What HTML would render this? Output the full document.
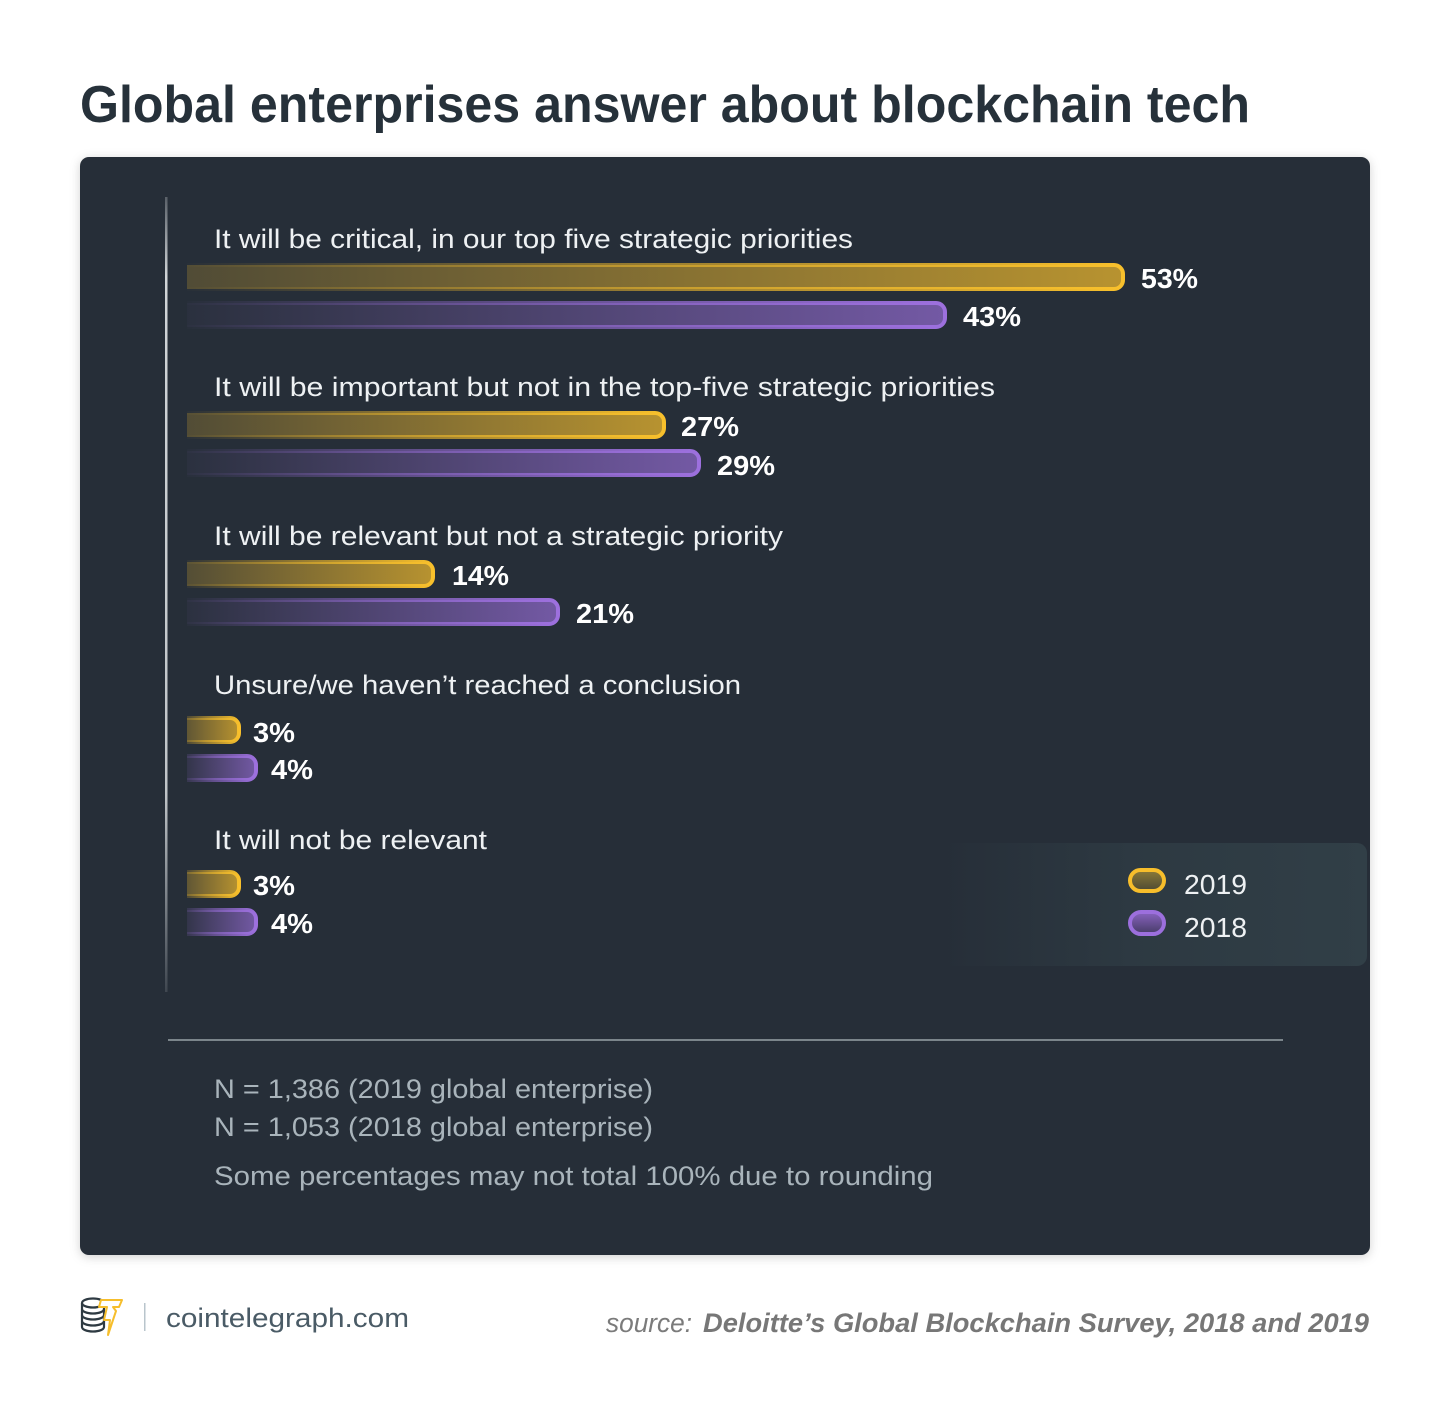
<!DOCTYPE html>
<html>
<head>
<meta charset="utf-8">
<style>
html,body{margin:0;padding:0;background:#ffffff;}
svg{display:block;}
text{font-family:"Liberation Sans",sans-serif;}
</style>
</head>
<body>
<svg width="1450" height="1421" viewBox="0 0 1450 1421" xmlns="http://www.w3.org/2000/svg">
<defs>
  <filter id="sh" x="-5%" y="-5%" width="110%" height="110%">
    <feDropShadow dx="0" dy="2" stdDeviation="5" flood-color="#000" flood-opacity="0.18"/>
  </filter>
  <linearGradient id="yf" x1="0" y1="0" x2="1" y2="0">
    <stop offset="0" stop-color="#f6be2c" stop-opacity="0.2"/>
    <stop offset="1" stop-color="#f6be2c" stop-opacity="0.7"/>
  </linearGradient>
  <linearGradient id="ys" x1="0" y1="0" x2="1" y2="0">
    <stop offset="0" stop-color="#f6be2c" stop-opacity="0"/>
    <stop offset="0.5" stop-color="#f6be2c" stop-opacity="0.55"/>
    <stop offset="1" stop-color="#f8c02c" stop-opacity="1"/>
  </linearGradient>
  <linearGradient id="pf" x1="0" y1="0" x2="1" y2="0">
    <stop offset="0" stop-color="#9b6fdc" stop-opacity="0.03"/>
    <stop offset="1" stop-color="#9b6fdc" stop-opacity="0.66"/>
  </linearGradient>
  <linearGradient id="ps" x1="0" y1="0" x2="1" y2="0">
    <stop offset="0" stop-color="#9b6fdc" stop-opacity="0"/>
    <stop offset="0.5" stop-color="#9b6fdc" stop-opacity="0.55"/>
    <stop offset="1" stop-color="#9d70de" stop-opacity="1"/>
  </linearGradient>
  <linearGradient id="vl" x1="0" y1="0" x2="0" y2="1">
    <stop offset="0" stop-color="#d0d4d7" stop-opacity="0.3"/>
    <stop offset="0.1" stop-color="#d0d4d7" stop-opacity="1"/>
    <stop offset="0.75" stop-color="#d0d4d7" stop-opacity="0.9"/>
    <stop offset="1" stop-color="#d0d4d7" stop-opacity="0.15"/>
  </linearGradient>
  <linearGradient id="lg" x1="0" y1="0" x2="1" y2="0">
    <stop offset="0" stop-color="#303e46" stop-opacity="0"/>
    <stop offset="0.45" stop-color="#303e46" stop-opacity="0.7"/>
    <stop offset="1" stop-color="#313f47" stop-opacity="1"/>
  </linearGradient>
  <linearGradient id="lyf" x1="0" y1="0" x2="0" y2="1">
    <stop offset="0" stop-color="#8d7b38"/>
    <stop offset="1" stop-color="#4d4933"/>
  </linearGradient>
  <linearGradient id="lpf" x1="0" y1="0" x2="0" y2="1">
    <stop offset="0" stop-color="#8a64c2"/>
    <stop offset="1" stop-color="#463b66"/>
  </linearGradient>
  <clipPath id="bc"><rect x="187" y="150" width="1200" height="850"/></clipPath>
</defs>

<!-- Title -->
<text x="80" y="122" font-size="52" font-weight="bold" fill="#26313a" textLength="1170" lengthAdjust="spacingAndGlyphs">Global enterprises answer about blockchain tech</text>

<!-- Panel -->
<rect x="80" y="157" width="1290" height="1098" rx="9" fill="#252f37" filter="url(#sh)"/>

<!-- Legend box -->
<rect x="940" y="843" width="427" height="123" rx="10" fill="url(#lg)"/>

<!-- vertical line -->
<rect x="165" y="197" width="2.5" height="795" fill="url(#vl)"/>

<!-- Category labels -->
<g fill="#eef1f3" font-size="27">
<text x="214" y="248" textLength="639" lengthAdjust="spacingAndGlyphs">It will be critical, in our top five strategic priorities</text>
<text x="214" y="396" textLength="781" lengthAdjust="spacingAndGlyphs">It will be important but not in the top-five strategic priorities</text>
<text x="214" y="545" textLength="569" lengthAdjust="spacingAndGlyphs">It will be relevant but not a strategic priority</text>
<text x="214" y="694" textLength="527" lengthAdjust="spacingAndGlyphs">Unsure/we haven’t reached a conclusion</text>
<text x="214" y="849" textLength="273" lengthAdjust="spacingAndGlyphs">It will not be relevant</text>
</g>

<!-- Bars -->
<g clip-path="url(#bc)" stroke-width="4">
  <rect x="177" y="265" width="946" height="24" rx="9" fill="url(#yf)" stroke="url(#ys)"/>
  <rect x="177" y="303" width="768" height="24" rx="9" fill="url(#pf)" stroke="url(#ps)"/>

  <rect x="177" y="413" width="487" height="24" rx="9" fill="url(#yf)" stroke="url(#ys)"/>
  <rect x="177" y="451" width="522" height="24" rx="9" fill="url(#pf)" stroke="url(#ps)"/>

  <rect x="177" y="562" width="256" height="24" rx="9" fill="url(#yf)" stroke="url(#ys)"/>
  <rect x="177" y="600" width="381" height="24" rx="9" fill="url(#pf)" stroke="url(#ps)"/>

  <rect x="177" y="718" width="62" height="24" rx="9" fill="url(#yf)" stroke="url(#ys)"/>
  <rect x="177" y="756" width="79" height="24" rx="9" fill="url(#pf)" stroke="url(#ps)"/>

  <rect x="177" y="872" width="62" height="24" rx="9" fill="url(#yf)" stroke="url(#ys)"/>
  <rect x="177" y="910" width="79" height="24" rx="9" fill="url(#pf)" stroke="url(#ps)"/>
</g>

<!-- Values -->
<g fill="#ffffff" font-size="28" font-weight="bold">
<text x="1141" y="288" textLength="57" lengthAdjust="spacingAndGlyphs">53%</text>
<text x="963" y="326" textLength="58" lengthAdjust="spacingAndGlyphs">43%</text>
<text x="681" y="436" textLength="58" lengthAdjust="spacingAndGlyphs">27%</text>
<text x="717" y="475" textLength="58" lengthAdjust="spacingAndGlyphs">29%</text>
<text x="452" y="585" textLength="57" lengthAdjust="spacingAndGlyphs">14%</text>
<text x="576" y="623" textLength="58" lengthAdjust="spacingAndGlyphs">21%</text>
<text x="253" y="742" textLength="42" lengthAdjust="spacingAndGlyphs">3%</text>
<text x="271" y="779" textLength="42" lengthAdjust="spacingAndGlyphs">4%</text>
<text x="253" y="895" textLength="42" lengthAdjust="spacingAndGlyphs">3%</text>
<text x="271" y="933" textLength="42" lengthAdjust="spacingAndGlyphs">4%</text>
</g>

<!-- Legend -->
<rect x="1130" y="870" width="34" height="21" rx="10.5" fill="url(#lyf)" stroke="#f7be2b" stroke-width="4"/>
<rect x="1130" y="912" width="34" height="22" rx="11" fill="url(#lpf)" stroke="#9c6fdd" stroke-width="4"/>
<g fill="#eef1f3" font-size="28">
<text x="1184" y="894" textLength="63" lengthAdjust="spacingAndGlyphs">2019</text>
<text x="1184" y="937" textLength="63" lengthAdjust="spacingAndGlyphs">2018</text>
</g>

<!-- separator -->
<rect x="168" y="1039" width="1115" height="2" fill="#7b858b"/>

<!-- Footnotes -->
<g fill="#a9b4bb" font-size="27">
<text x="214" y="1098" textLength="439" lengthAdjust="spacingAndGlyphs">N = 1,386 (2019 global enterprise)</text>
<text x="214" y="1136" textLength="439" lengthAdjust="spacingAndGlyphs">N = 1,053 (2018 global enterprise)</text>
<text x="214" y="1185" textLength="719" lengthAdjust="spacingAndGlyphs">Some percentages may not total 100% due to rounding</text>
</g>

<!-- Footer logo -->
<g fill="none" stroke="#2e3a42" stroke-width="2.2">
  <ellipse cx="93" cy="1303" rx="11" ry="4.5" fill="#ffffff"/>
  <path d="M82 1303 v6 a11 4.5 0 0 0 22 0 v-6"/>
  <path d="M82 1309 v6 a11 4.5 0 0 0 22 0 v-6"/>
  <path d="M82 1315 v6 a11 4.5 0 0 0 22 0 v-6"/>
  <path d="M82 1321 v6 a11 4.5 0 0 0 22 0 v-6"/>
</g>
<path d="M101 1300 L122 1300 L119 1307 L113 1307 L116 1311 L108 1335 L110 1320 L104 1320 L107 1307 L99 1307 Z" fill="#ffffff" stroke="#f6be2c" stroke-width="2" stroke-linejoin="round"/>
<rect x="144" y="1303" width="1.5" height="28" fill="#b9c5cc"/>
<text x="166" y="1327" font-size="27" fill="#4a5b66" textLength="243" lengthAdjust="spacingAndGlyphs">cointelegraph.com</text>

<!-- Source -->
<text x="606" y="1332" font-size="27" font-style="italic" fill="#7b7b7b" textLength="86" lengthAdjust="spacingAndGlyphs">source:</text>
<text x="703" y="1332" font-size="27" font-style="italic" font-weight="bold" fill="#777777" textLength="666" lengthAdjust="spacingAndGlyphs">Deloitte’s Global Blockchain Survey, 2018 and 2019</text>
</svg>
</body>
</html>
